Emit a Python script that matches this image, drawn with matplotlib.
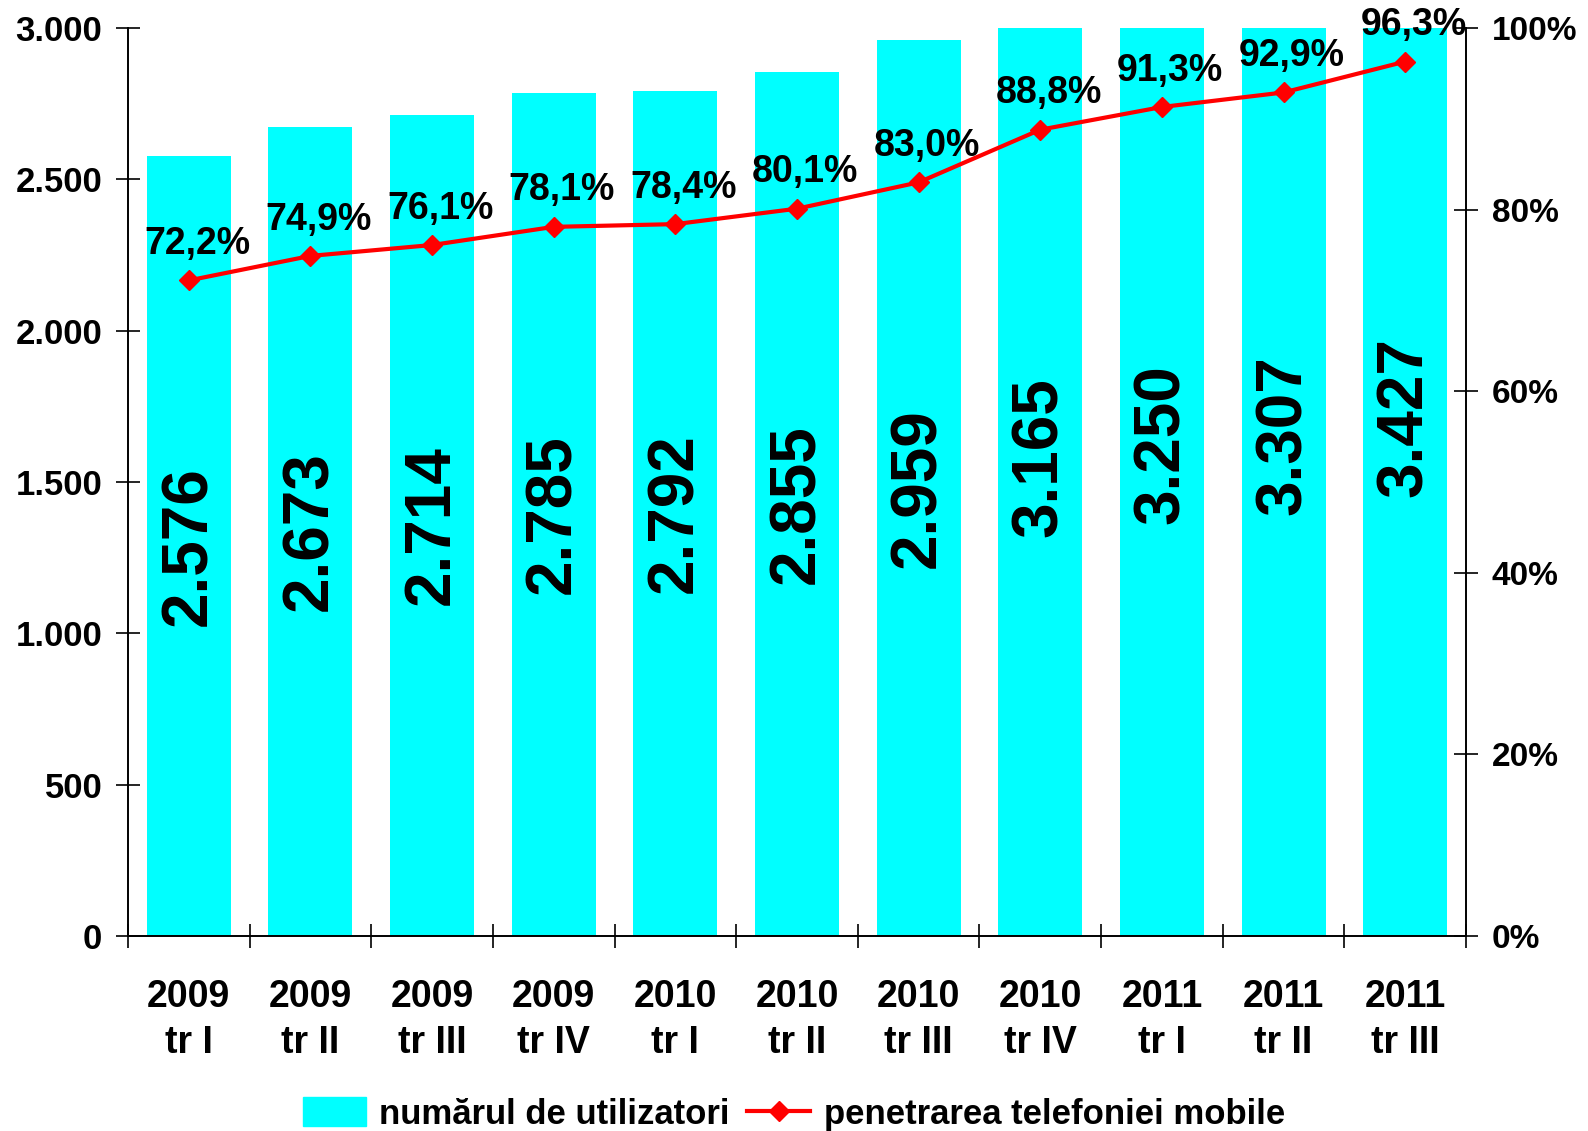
import matplotlib.pyplot as plt
from matplotlib.ticker import FuncFormatter, FixedLocator
from matplotlib.lines import Line2D
from matplotlib.patches import Patch

plt.rcParams['font.family'] = ['Liberation Sans', 'DejaVu Sans']
plt.rcParams['font.weight'] = 'bold'

# quarters
years = ["2009", "2009", "2009", "2009", "2010", "2010", "2010", "2010", "2011", "2011", "2011"]
quarters = ["tr I", "tr II", "tr III", "tr IV", "tr I", "tr II", "tr III", "tr IV", "tr I", "tr II", "tr III"]
# number of users (thousands)
users = [2576, 2673, 2714, 2785, 2792, 2855, 2959, 3165, 3250, 3307, 3427]
# mobile penetration (%)
penetration = [72.2, 74.9, 76.1, 78.1, 78.4, 80.1, 83.0, 88.8, 91.3, 92.9, 96.3]

labels = [f"{y}\n{q}" for y, q in zip(years, quarters)]
x = list(range(len(users)))

fig = plt.figure(figsize=(15.88, 11.31), dpi=100)
ax = fig.add_axes([128 / 1588, 1 - 936 / 1131, (1466 - 128) / 1588, (936 - 28) / 1131])
ax2 = ax.twinx()

ax.bar(x, users, width=0.69, color='#00FFFF', zorder=1)
for xi, v in zip(x, users):
    ax.text(xi, v / 2, f"{v:,}".replace(",", "."), rotation=90, ha='center', va='center',
            fontsize=46, fontweight='bold', color='black')

ax.set_xlim(-0.5, len(users) - 0.5)
ax.set_ylim(0, 3000)
ax.set_yticks(range(0, 3001, 500))
ax.yaxis.set_major_formatter(FuncFormatter(lambda v, p: f"{int(v):,}".replace(",", ".")))
ax.tick_params(axis='y', direction='inout', length=17, width=1.2, labelsize=25, pad=10)

ax.set_xticks(x)
ax.set_xticklabels(labels, fontsize=27, fontweight='bold', linespacing=1.35)
ax.xaxis.set_minor_locator(FixedLocator([i - 0.5 for i in range(len(users) + 1)]))
ax.tick_params(axis='x', which='major', length=0, pad=31)
ax.tick_params(axis='x', which='minor', direction='inout', length=17, width=1.2)

ax2.plot(x, penetration, color='#FF0000', lw=3.0, marker='D', markersize=10, zorder=3)
for xi, p in zip(x, penetration):
    ax2.annotate(f"{p:.1f}%".replace(".", ","), (xi, p), xytext=(6, 19), textcoords='offset points',
                 ha='center', va='baseline', fontsize=27, fontweight='bold', annotation_clip=False)
ax2.set_ylim(0, 100)
ax2.set_yticks(range(0, 101, 20))
ax2.yaxis.set_major_formatter(FuncFormatter(lambda v, p: f"{int(v)}%"))
ax2.tick_params(axis='y', direction='inout', length=17, width=1.2, labelsize=24, pad=10)

for a in (ax, ax2):
    a.spines['top'].set_visible(False)
    for s in ('left', 'right', 'bottom'):
        a.spines[s].set_linewidth(1.2)

handles = [Patch(color='#00FFFF'),
           Line2D([], [], color='#FF0000', lw=3.0, marker='D', markersize=10)]
fig.legend(handles, ["numărul de utilizatori", "penetrarea telefoniei mobile"],
           loc='center', bbox_to_anchor=(0.5, 1 - 1114 / 1131), ncol=2, frameon=False,
           prop={'family': ['Liberation Sans Narrow', 'Liberation Sans'], 'weight': 'bold', 'size': 25},
           handlelength=1.8, handleheight=0.9, handletextpad=0.4, columnspacing=0.5)

fig.savefig("out.png", dpi=100, facecolor='white')
